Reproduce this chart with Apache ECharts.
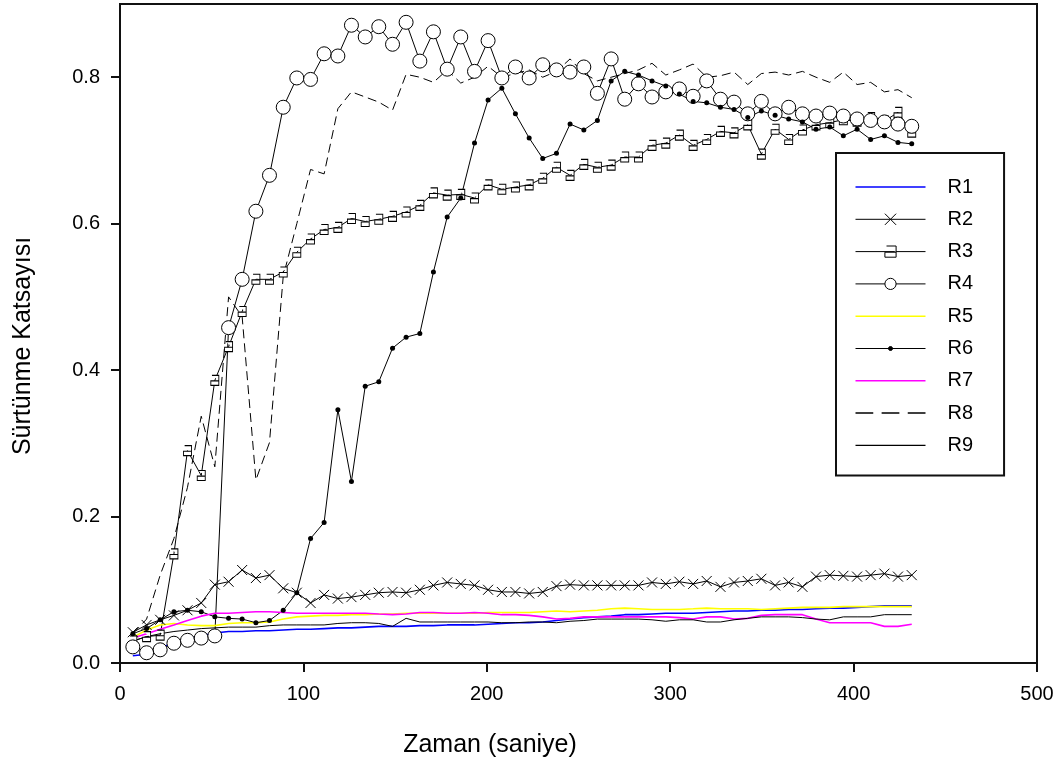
<!DOCTYPE html>
<html>
<head>
<meta charset="utf-8">
<script src="https://cdn.jsdelivr.net/npm/echarts@6/dist/echarts.min.js"></script>
<style>
  html, body { margin: 0; padding: 0; background: #fff; }
  #chart { width: 1064px; height: 778px; }
</style>
</head>
<body>
<div id="chart"></div>
<script>
// Sampling times (s) shared by all runs
const timeSec = [
  7.0, 14.5, 21.9, 29.4, 36.8, 44.3, 51.7, 59.2, 66.6, 74.1,
  81.5, 89.0, 96.4, 103.9, 111.3, 118.8, 126.2, 133.7, 141.1, 148.6,
  156.0, 163.5, 170.9, 178.4, 185.8, 193.3, 200.7, 208.2, 215.6, 223.1,
  230.5, 238.0, 245.4, 252.9, 260.3, 267.8, 275.2, 282.7, 290.1, 297.6,
  305.0, 312.5, 319.9, 327.4, 334.8, 342.3, 349.7, 357.2, 364.6, 372.1,
  379.5, 387.0, 394.4, 401.9, 409.3, 416.8, 424.2, 431.7
];

// Friction coefficient per run
const r1 = [
  0.010, 0.012, 0.020, 0.028, 0.033, 0.037, 0.041, 0.043, 0.043, 0.044,
  0.044, 0.045, 0.046, 0.046, 0.047, 0.048, 0.048, 0.049, 0.050, 0.050,
  0.050, 0.051, 0.051, 0.052, 0.052, 0.052, 0.053, 0.054, 0.055, 0.055,
  0.056, 0.058, 0.060, 0.062, 0.063, 0.064, 0.066, 0.066, 0.067, 0.068,
  0.068, 0.068, 0.069, 0.070, 0.071, 0.071, 0.072, 0.072, 0.073, 0.073,
  0.074, 0.075, 0.075, 0.076, 0.077, 0.078, 0.078, 0.078
];
const r2 = [
  0.042, 0.052, 0.059, 0.065, 0.072, 0.082, 0.107, 0.111, 0.127, 0.116,
  0.120, 0.102, 0.096, 0.082, 0.093, 0.088, 0.090, 0.093, 0.096, 0.097,
  0.096, 0.100, 0.106, 0.110, 0.108, 0.106, 0.100, 0.097, 0.097, 0.095,
  0.097, 0.105, 0.107, 0.106, 0.106, 0.106, 0.106, 0.106, 0.110, 0.108,
  0.111, 0.108, 0.112, 0.104, 0.110, 0.112, 0.115, 0.106, 0.110, 0.104,
  0.118, 0.120, 0.119, 0.118, 0.120, 0.122, 0.118, 0.120
];
const r3 = [
  0.030, 0.036, 0.038, 0.149, 0.290, 0.256, 0.386, 0.432, 0.480, 0.524,
  0.524, 0.534, 0.561, 0.579, 0.592, 0.595, 0.607, 0.603, 0.606, 0.610,
  0.616, 0.625, 0.642, 0.639, 0.640, 0.635, 0.653, 0.647, 0.650, 0.653,
  0.662, 0.677, 0.666, 0.681, 0.677, 0.680, 0.691, 0.691, 0.707, 0.710,
  0.721, 0.707, 0.715, 0.726, 0.724, 0.735, 0.695, 0.729, 0.715, 0.728,
  0.735, 0.738, 0.742, 0.740, 0.745, 0.740, 0.752, 0.725
];
const r4 = [
  0.022, 0.014, 0.018, 0.027, 0.031, 0.034, 0.037, 0.458, 0.524, 0.617,
  0.666, 0.759, 0.799, 0.797, 0.832, 0.829, 0.871, 0.855, 0.869, 0.845,
  0.875, 0.822, 0.862, 0.811, 0.855, 0.808, 0.850, 0.799, 0.814, 0.799,
  0.817, 0.810, 0.807, 0.814, 0.778, 0.825, 0.770, 0.791, 0.773, 0.780,
  0.784, 0.774, 0.795, 0.770, 0.766, 0.750, 0.767, 0.750, 0.759, 0.750,
  0.747, 0.751, 0.747, 0.743, 0.741, 0.739, 0.736, 0.733
];
const r5 = [
  0.035, 0.045, 0.052, 0.054, 0.052, 0.051, 0.051, 0.054, 0.055, 0.055,
  0.056, 0.060, 0.063, 0.064, 0.065, 0.065, 0.066, 0.066, 0.067, 0.067,
  0.068, 0.068, 0.068, 0.068, 0.068, 0.068, 0.069, 0.069, 0.069, 0.069,
  0.070, 0.071, 0.070, 0.071, 0.072, 0.074, 0.075, 0.074, 0.073, 0.073,
  0.073, 0.074, 0.075, 0.074, 0.074, 0.074, 0.073, 0.074, 0.075, 0.076,
  0.076, 0.076, 0.077, 0.077, 0.077, 0.077, 0.077, 0.077
];
const r6 = [
  0.040, 0.047, 0.059, 0.070, 0.072, 0.070, 0.063, 0.061, 0.060, 0.055,
  0.058, 0.072, 0.096, 0.170, 0.192, 0.346, 0.248, 0.378, 0.384, 0.430,
  0.445, 0.450, 0.534, 0.609, 0.635, 0.710, 0.769, 0.785, 0.750, 0.717,
  0.689, 0.696, 0.736, 0.728, 0.741, 0.795, 0.808, 0.803, 0.795, 0.788,
  0.777, 0.767, 0.765, 0.759, 0.756, 0.745, 0.754, 0.748, 0.743, 0.739,
  0.729, 0.732, 0.720, 0.729, 0.715, 0.720, 0.711, 0.709
];
const r7 = [
  0.034, 0.040, 0.046, 0.052, 0.058, 0.064, 0.068, 0.068, 0.069, 0.070,
  0.070, 0.069, 0.068, 0.068, 0.068, 0.068, 0.068, 0.068, 0.067, 0.066,
  0.067, 0.069, 0.069, 0.068, 0.068, 0.069, 0.068, 0.066, 0.066, 0.065,
  0.063, 0.060, 0.061, 0.063, 0.063, 0.063, 0.063, 0.063, 0.063, 0.063,
  0.062, 0.060, 0.063, 0.063, 0.060, 0.061, 0.065, 0.066, 0.066, 0.066,
  0.060, 0.055, 0.055, 0.055, 0.055, 0.050, 0.050, 0.053
];
const r8 = [
  0.040, 0.060, 0.120, 0.170, 0.240, 0.337, 0.268, 0.500, 0.473, 0.250,
  0.301, 0.528, 0.600, 0.674, 0.668, 0.757, 0.780, 0.773, 0.766, 0.755,
  0.804, 0.800, 0.793, 0.810, 0.792, 0.800, 0.815, 0.800, 0.805, 0.810,
  0.800, 0.808, 0.825, 0.805, 0.795, 0.800, 0.805, 0.810, 0.819, 0.803,
  0.810, 0.818, 0.800, 0.802, 0.807, 0.790, 0.805, 0.807, 0.803, 0.808,
  0.800, 0.793, 0.807, 0.790, 0.793, 0.780, 0.783, 0.772
];
const r9 = [
  0.030, 0.036, 0.040, 0.043, 0.045, 0.047, 0.048, 0.049, 0.049, 0.049,
  0.051, 0.052, 0.052, 0.052, 0.052, 0.054, 0.055, 0.055, 0.054, 0.050,
  0.061, 0.056, 0.056, 0.056, 0.056, 0.056, 0.056, 0.055, 0.055, 0.056,
  0.056, 0.055, 0.057, 0.058, 0.060, 0.060, 0.060, 0.060, 0.059, 0.057,
  0.059, 0.059, 0.056, 0.056, 0.059, 0.061, 0.063, 0.063, 0.063, 0.062,
  0.060, 0.059, 0.063, 0.063, 0.063, 0.066, 0.066, 0.066
];

const xTicks = [0, 100, 200, 300, 400, 500];
const yTicks = [0, 0.2, 0.4, 0.6, 0.8];

const FONT = '"Liberation Sans", Arial, sans-serif';

// Marker shapes
const crossPath = 'path://M0,0L10,10M10,0L0,10';
const letterAPath = 'path://M1,0H7V9H0V5H7';
const dotPath = 'path://M0,0L0,0M14,14L14,14M7,4.5A2.5,2.5,0,1,1,7,9.5A2.5,2.5,0,1,1,7,4.5Z';
// Legend swatches for runs drawn without markers
const solidSwatch = 'path://M0,0H70V1.4H0Z';
const dashSwatch = 'path://M0,0H17V1.4H0ZM25,0H42V1.4H25ZM50,0H67V1.4H50Z';

function pairs(vals) {
  return timeSec.map((t, i) => [t, vals[i]]);
}

function plainRun(name, vals, color, width, dashed) {
  return {
    name, type: 'line', data: pairs(vals),
    symbol: 'none', showSymbol: false,
    itemStyle: { color },
    lineStyle: { color, width, type: dashed ? [9, 5] : 'solid' },
    emphasis: { disabled: true }
  };
}

function markedRun(name, vals, symbol, size, fill, borderWidth) {
  return {
    name, type: 'line', data: pairs(vals),
    symbol, symbolSize: size, showSymbol: true, showAllSymbol: true,
    itemStyle: { color: fill, borderColor: '#000', borderWidth },
    lineStyle: { color: '#000', width: 1 },
    emphasis: { disabled: true }
  };
}

const series = [
  plainRun('R1', r1, '#0000ff', 1.6, false),
  markedRun('R2', r2, crossPath, 10, '#000', 1),
  markedRun('R3', r3, letterAPath, [8, 10], '#fff', 1),
  markedRun('R4', r4, 'circle', 14, '#fff', 1),
  plainRun('R5', r5, '#ffff00', 1.6, false),
  markedRun('R6', r6, dotPath, 14, '#000', 0),
  plainRun('R7', r7, '#ff00ff', 1.6, false),
  plainRun('R8', r8, '#000', 1, true),
  plainRun('R9', r9, '#000', 1, false)
];

const chart = echarts.init(document.getElementById('chart'), null, { renderer: 'canvas' });
chart.setOption({
  animation: false,
  backgroundColor: '#fff',
  textStyle: { fontFamily: FONT },
  grid: {
    left: 120, right: 27, top: 4, bottom: 115,
    show: true, borderColor: '#111', borderWidth: 2, backgroundColor: 'transparent'
  },
  legend: {
    orient: 'vertical',
    left: 836, top: 153,
    itemWidth: 70, itemHeight: 14, itemGap: 12.3,
    padding: [24, 31, 20, 19],
    backgroundColor: '#fff',
    borderColor: '#111', borderWidth: 2,
    selectedMode: false,
    itemStyle: { borderWidth: 1 },
    lineStyle: { width: 1 },
    textStyle: { fontFamily: FONT, fontSize: 20, color: '#000', padding: [0, 0, 0, 17] },
    data: [
      { name: 'R1', icon: solidSwatch },
      { name: 'R2' },
      { name: 'R3' },
      { name: 'R4' },
      { name: 'R5', icon: solidSwatch },
      { name: 'R6' },
      { name: 'R7', icon: solidSwatch },
      { name: 'R8', icon: dashSwatch },
      { name: 'R9', icon: solidSwatch }
    ]
  },
  xAxis: {
    type: 'value', min: 0, max: 500, interval: 100,
    axisLine: { onZero: false, lineStyle: { color: '#111', width: 2 } },
    axisTick: { show: true, length: 9, inside: false, customValues: xTicks, lineStyle: { color: '#111', width: 2 } },
    axisLabel: { customValues: xTicks, margin: 21, fontSize: 20, color: '#000', fontFamily: FONT },
    splitLine: { show: false }
  },
  yAxis: {
    type: 'value', min: 0, max: 0.9, interval: 0.2,
    axisLine: { onZero: false, lineStyle: { color: '#111', width: 2 } },
    axisTick: { show: true, length: 9, inside: false, customValues: yTicks, lineStyle: { color: '#111', width: 2 } },
    axisLabel: {
      customValues: yTicks, margin: 20, fontSize: 20, color: '#000', fontFamily: FONT,
      formatter: v => v.toFixed(1)
    },
    splitLine: { show: false }
  },
  graphic: [
    {
      type: 'text', x: 23, y: 346, rotation: Math.PI / 2,
      style: { text: 'Sürtünme Katsayısı', font: '25px "Liberation Sans", Arial, sans-serif', fill: '#000', align: 'center', verticalAlign: 'middle' }
    },
    {
      type: 'text', x: 490, y: 745,
      style: { text: 'Zaman (saniye)', font: '25px "Liberation Sans", Arial, sans-serif', fill: '#000', align: 'center', verticalAlign: 'middle' }
    }
  ],
  series
});
</script>
</body>
</html>
